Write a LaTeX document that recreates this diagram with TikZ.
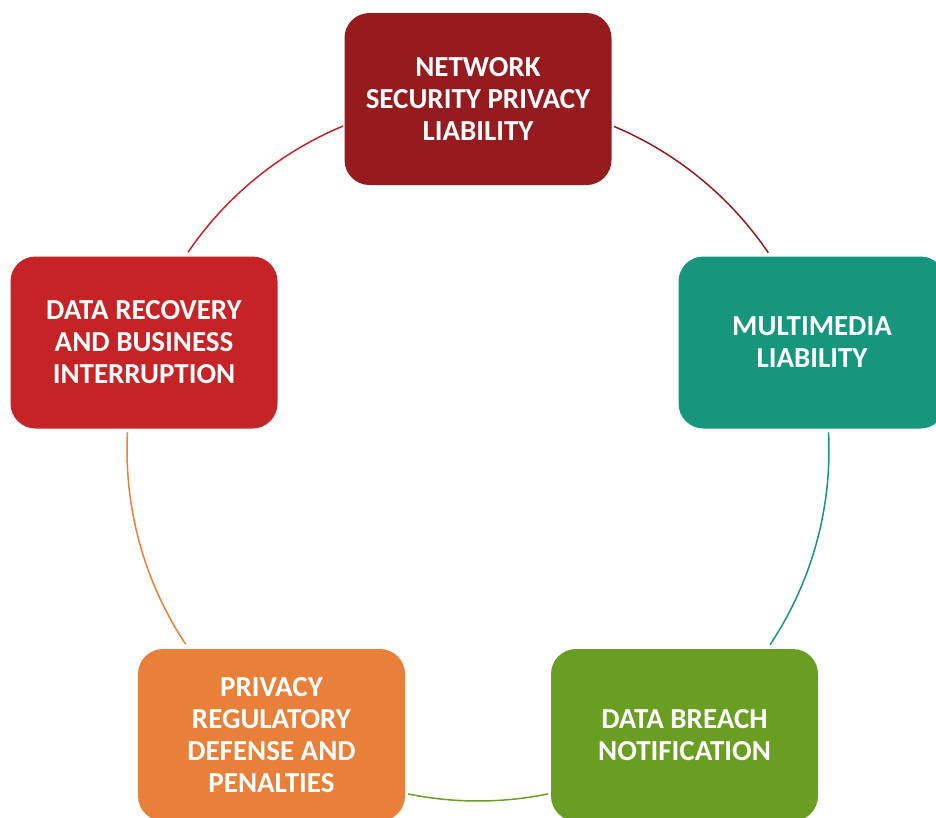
\documentclass[tikz,border=0pt]{standalone}
\usepackage{fontspec}
\setmainfont{Carlito}
\definecolor{cDarkRed}{RGB}{149,27,30}
\definecolor{cTeal}{RGB}{22,150,125}
\definecolor{cGreen}{RGB}{106,158,34}
\definecolor{cOrange}{RGB}{233,128,57}
\definecolor{cRed}{RGB}{197,35,38}
\tikzset{
  box/.style={rectangle, rounded corners=25pt, minimum width=267pt, minimum height=172pt,
    inner sep=0pt, text=white, align=center, font=\fontsize{29}{32}\selectfont\bfseries},
  ring/.style={line width=1.5pt},
}
\begin{document}
\begin{tikzpicture}[x=1pt,y=-1pt]
\useasboundingbox (0,0) rectangle (936,817);
\coordinate (c) at (478,450);
\def\R{351}
% ring segments (y axis points down, so angles are negated)
\draw[ring, cDarkRed] (c) ++(-67.2:\R) arc[start angle=-67.2, end angle=-34.2, radius=\R];
\draw[ring, cTeal]    (c) ++(-2.9:\R)  arc[start angle=-2.9,  end angle=33.7,  radius=\R];
\draw[ring, cGreen]   (c) ++(78.5:\R)  arc[start angle=78.5,  end angle=101.5, radius=\R];
\draw[ring, cOrange]  (c) ++(146.4:\R) arc[start angle=146.4, end angle=182.9, radius=\R];
\draw[ring, cRed]     (c) ++(-145.7:\R) arc[start angle=-145.7, end angle=-112.6, radius=\R];
% boxes
\node[box, fill=cDarkRed] (net) at (478,99) {NETWORK\\SECURITY PRIVACY\\LIABILITY};
\node[box, fill=cTeal]    (mm)  at (812,342.5) {MULTIMEDIA\\LIABILITY};
\node[box, fill=cGreen]   (db)  at (684.5,735) {DATA BREACH\\NOTIFICATION};
\node[box, fill=cOrange]  (prd) at (271.5,735) {PRIVACY\\REGULATORY\\DEFENSE AND\\PENALTIES};
\node[box, fill=cRed]     (dr)  at (144,342.5) {DATA RECOVERY\\AND BUSINESS\\INTERRUPTION};
\end{tikzpicture}
\end{document}
